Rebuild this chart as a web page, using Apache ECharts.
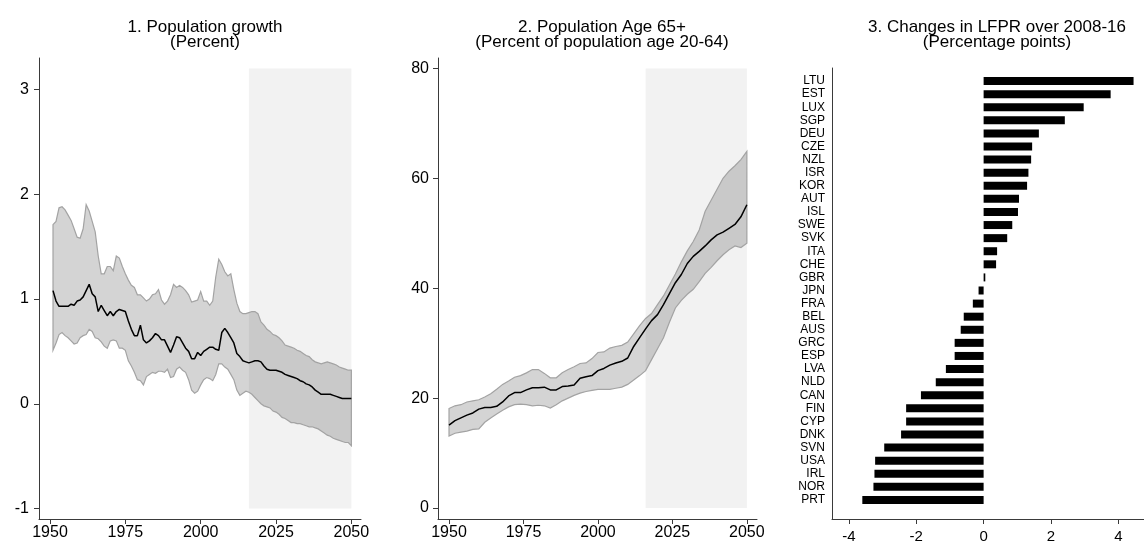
<!DOCTYPE html>
<html>
<head>
<meta charset="utf-8">
<script src="https://cdn.jsdelivr.net/npm/echarts@6/dist/echarts.min.js"></script>
<style>
  html, body { margin: 0; padding: 0; background: #fff; }
  #chart { width: 1144px; height: 544px; }
</style>
</head>
<body>
<div id="chart"></div>
<script>
// panel 1: population growth, percent (yearly, 1951-2050)
var growthYears = [];
for (var y = 1951; y <= 2050; y++) growthYears.push(y);
var growthMean = [
  1.08, 0.98, 0.93, 0.93, 0.93, 0.93, 0.95, 0.94, 0.98, 0.99,
  1.02, 1.08, 1.14, 1.05, 1.02, 0.88, 0.94, 0.89, 0.84, 0.88,
  0.84, 0.88, 0.90, 0.89, 0.88, 0.79, 0.71, 0.65, 0.65, 0.75,
  0.61, 0.58, 0.60, 0.63, 0.67, 0.65, 0.61, 0.61, 0.55, 0.49,
  0.56, 0.64, 0.63, 0.58, 0.53, 0.50, 0.43, 0.43, 0.49, 0.46,
  0.50, 0.52, 0.54, 0.54, 0.52, 0.51, 0.68, 0.72, 0.68, 0.63,
  0.58, 0.48, 0.45, 0.41, 0.40, 0.39, 0.40, 0.41, 0.41, 0.40,
  0.36, 0.33, 0.32, 0.32, 0.32, 0.31, 0.30, 0.28, 0.27, 0.26,
  0.25, 0.24, 0.22, 0.21, 0.19, 0.18, 0.16, 0.13, 0.11, 0.09,
  0.09, 0.09, 0.09, 0.08, 0.07, 0.06, 0.05, 0.05, 0.05, 0.05
];
var growthUpper = [
  1.71, 1.74, 1.87, 1.88, 1.85, 1.80, 1.75, 1.67, 1.59, 1.58,
  1.67, 1.90, 1.84, 1.74, 1.64, 1.41, 1.24, 1.24, 1.31, 1.31,
  1.27, 1.41, 1.39, 1.31, 1.24, 1.18, 1.13, 1.11, 1.04, 1.04,
  1.01, 0.98, 1.00, 1.04, 1.05, 1.09, 0.99, 0.95, 0.98, 1.04,
  1.14, 1.11, 1.13, 1.11, 1.08, 1.04, 0.97, 0.98, 0.99, 1.07,
  0.98, 0.98, 0.94, 0.98, 1.21, 1.38, 1.33, 1.26, 1.22, 1.24,
  1.09, 0.96, 0.88, 0.86, 0.86, 0.87, 0.88, 0.88, 0.86, 0.78,
  0.75, 0.71, 0.69, 0.66, 0.65, 0.63, 0.60, 0.56, 0.55, 0.54,
  0.53, 0.51, 0.50, 0.48, 0.46, 0.45, 0.42, 0.40, 0.39, 0.38,
  0.39, 0.40, 0.39, 0.38, 0.37, 0.35, 0.34, 0.33, 0.32, 0.32
];
var growthLower = [
  0.51, 0.58, 0.66, 0.68, 0.65, 0.63, 0.60, 0.57, 0.58, 0.63,
  0.65, 0.66, 0.71, 0.69, 0.63, 0.62, 0.59, 0.55, 0.53, 0.60,
  0.61, 0.60, 0.53, 0.53, 0.51, 0.41, 0.36, 0.30, 0.23, 0.22,
  0.18, 0.26, 0.28, 0.30, 0.29, 0.31, 0.31, 0.30, 0.33, 0.25,
  0.26, 0.33, 0.35, 0.32, 0.30, 0.23, 0.13, 0.10, 0.12, 0.18,
  0.23, 0.25, 0.24, 0.22, 0.28, 0.38, 0.38, 0.35, 0.33, 0.28,
  0.23, 0.13, 0.08, 0.10, 0.12, 0.11, 0.09, 0.06, 0.03, 0.00,
  -0.02, -0.03, -0.04, -0.07, -0.08, -0.10, -0.13, -0.14, -0.16, -0.18,
  -0.18, -0.19, -0.19, -0.20, -0.21, -0.22, -0.22, -0.23, -0.24, -0.26,
  -0.28, -0.30, -0.31, -0.33, -0.34, -0.35, -0.36, -0.37, -0.37, -0.40
];

// panel 2: population 65+, percent of population age 20-64 (every 2 years)
var oldYears = [];
for (var y2 = 1950; y2 <= 2050; y2 += 2) oldYears.push(y2);
var oldMean = [
  15.1, 15.9, 16.4, 16.9, 17.3, 18.0, 18.3, 18.3, 18.5, 19.3,
  20.4, 21.0, 21.0, 21.5, 21.9, 21.9, 22.0, 21.5, 21.5, 22.1,
  22.2, 22.4, 23.6, 23.9, 24.1, 25.0, 25.4, 26.0, 26.4, 26.7,
  27.3, 29.4, 31.0, 32.6, 34.1, 35.2, 37.0, 39.0, 41.0, 42.5,
  44.5, 45.8, 46.7, 47.7, 48.8, 49.7, 50.2, 50.9, 51.6, 53.0, 55.2
];
var oldUpper = [
  18.1, 18.6, 18.8, 19.3, 19.5, 19.7, 20.2, 20.8, 21.6, 22.5,
  23.1, 23.8, 24.1, 24.6, 25.2, 25.2, 24.5, 23.7, 23.7, 24.6,
  25.2, 25.7, 26.3, 26.4, 27.2, 28.3, 28.4, 29.1, 29.4, 29.6,
  30.2, 31.7, 33.2, 34.5, 35.4, 37.0, 38.6, 40.6, 42.6, 44.8,
  46.8, 48.5, 50.6, 54.0, 56.0, 58.0, 60.0, 61.3, 62.3, 63.4, 64.9
];
var oldLower = [
  13.1, 13.6, 13.8, 14.0, 14.3, 14.4, 15.6, 16.4, 17.1, 17.8,
  18.4, 18.8, 18.9, 18.8, 18.6, 18.7, 18.6, 18.2, 18.8, 19.5,
  20.0, 20.5, 20.9, 21.2, 21.4, 21.6, 21.6, 21.6, 21.8, 22.0,
  22.5, 23.3, 24.1, 25.0, 27.0, 29.0, 31.0, 33.8, 36.4, 37.8,
  38.9, 39.8, 41.2, 42.7, 43.8, 45.0, 46.1, 47.0, 47.7, 47.4, 48.2
];

// panel 3: changes in LFPR over 2008-16, percentage points (top to bottom)
var countries = ["LTU", "EST", "LUX", "SGP", "DEU", "CZE", "NZL", "ISR", "KOR", "AUT", "ISL",
  "SWE", "SVK", "ITA", "CHE", "GBR", "JPN", "FRA", "BEL", "AUS", "GRC", "ESP", "LVA",
  "NLD", "CAN", "FIN", "CYP", "DNK", "SVN", "USA", "IRL", "NOR", "PRT"];
var lfprChange = [4.45, 3.77, 2.97, 2.41, 1.64, 1.44, 1.41, 1.33, 1.29, 1.05, 1.02,
  0.85, 0.70, 0.40, 0.37, 0.05, -0.15, -0.32, -0.59, -0.68, -0.86, -0.86, -1.12,
  -1.42, -1.86, -2.30, -2.30, -2.45, -2.95, -3.22, -3.24, -3.27, -3.60];

// tick labels
var yearTicks = [1950, 1975, 2000, 2025, 2050];
var growthTicks = [-1, 0, 1, 2, 3];
var oldTicks = [0, 20, 40, 60, 80];
var lfprTicks = [-4, -2, 0, 2, 4];

// projection shading (2016-2050)
var projStart = 2016, projEnd = 2050;

var FONT = "Liberation Sans, Arial, sans-serif";
var AXIS = "#3a3a3a";

function pairs(xs, ys) {
  return xs.map(function (x, i) { return [x, ys[i]]; });
}
function plain(v) { return String(v); }

function tickAxis(gridIndex, ticks, minV, maxV, size, margin) {
  return {
    type: "value", gridIndex: gridIndex, min: minV, max: maxV,
    axisLine: { show: true, onZero: false, lineStyle: { color: AXIS, width: 1 } },
    axisTick: { show: true, length: 5, lineStyle: { color: AXIS }, customValues: ticks },
    axisLabel: { color: "#000", fontSize: size, fontFamily: FONT, margin: margin, customValues: ticks, formatter: plain },
    splitLine: { show: false }
  };
}

// band polygon + mean line for one panel
function bandSeries(idx, xs, lo, up, mean, shadeTop, shadeBottom) {
  return [
    {
      type: "line", xAxisIndex: idx, yAxisIndex: idx, data: [], silent: true, z: 1,
      markArea: {
        silent: true,
        itemStyle: { color: "#f2f2f2" },
        data: [[{ coord: [projStart, shadeBottom] }, { coord: [projEnd, shadeTop] }]]
      }
    },
    {
      type: "custom", xAxisIndex: idx, yAxisIndex: idx, data: [[xs[0], lo[0]]], silent: true, z: 2,
      renderItem: function (params, api) {
        var pts = [];
        for (var i = 0; i < xs.length; i++) pts.push(api.coord([xs[i], up[i]]));
        for (var j = xs.length - 1; j >= 0; j--) pts.push(api.coord([xs[j], lo[j]]));
        return {
          type: "polygon",
          shape: { points: pts },
          style: { fill: "rgba(0,0,0,0.17)", stroke: "#a3a3a3", lineWidth: 1.2 }
        };
      }
    },
    {
      type: "line", xAxisIndex: idx, yAxisIndex: idx, data: pairs(xs, mean), symbol: "none",
      lineStyle: { color: "#000", width: 1.5 }, z: 4, silent: true
    }
  ];
}

var titleStyle = { fontSize: 17, fontWeight: "normal", color: "#000", fontFamily: FONT, lineHeight: 15, align: "center" };

var option = {
  animation: false,
  backgroundColor: "#fff",
  title: [
    { text: "1. Population growth\n(Percent)", left: 200, top: 15, textAlign: "center", textStyle: titleStyle },
    { text: "2. Population Age 65+\n(Percent of population age 20-64)", left: 597, top: 15, textAlign: "center", textStyle: titleStyle },
    { text: "3. Changes in LFPR over 2008-16\n(Percentage points)", left: 992, top: 15, textAlign: "center", textStyle: titleStyle }
  ],
  grid: [
    { left: 39, top: 58, width: 322, height: 461 },
    { left: 438, top: 58, width: 319, height: 461 },
    { left: 832, top: 68, width: 314, height: 455 },
    { left: 832, top: 74.5, width: 314, height: 432 }
  ],
  xAxis: [
    tickAxis(0, yearTicks, 1946.35, 2053.2, 16, 6),
    tickAxis(1, yearTicks, 1946.3, 2053.4, 16, 6),
    tickAxis(2, lfprTicks, -4.5, 4.76, 15, 10),
    { type: "value", gridIndex: 3, min: -4.5, max: 4.76, show: false, splitLine: { show: false } }
  ],
  yAxis: [
    tickAxis(0, growthTicks, -1.1, 3.3, 16, 10),
    tickAxis(1, oldTicks, -2, 81.9, 16, 9),
    {
      type: "value", gridIndex: 2, min: 0, max: 1,
      axisLine: { show: true, onZero: false, lineStyle: { color: AXIS } },
      axisTick: { show: false }, axisLabel: { show: false }, splitLine: { show: false }
    },
    {
      type: "category", gridIndex: 3, data: countries, inverse: true,
      axisLine: { show: false }, axisTick: { show: false }, splitLine: { show: false },
      axisLabel: { interval: 0, color: "#000", fontSize: 12, fontFamily: FONT, margin: 7 }
    }
  ],
  series: bandSeries(0, growthYears, growthLower, growthUpper, growthMean, 3.2, -1)
    .concat(bandSeries(1, oldYears, oldLower, oldUpper, oldMean, 80, 0))
    .concat([
      {
        type: "bar", xAxisIndex: 3, yAxisIndex: 3, data: lfprChange,
        barWidth: 8, itemStyle: { color: "#000" }, silent: true
      }
    ])
};

var chart = echarts.init(document.getElementById("chart"), null, { renderer: "canvas" });
chart.setOption(option);
</script>
</body>
</html>
